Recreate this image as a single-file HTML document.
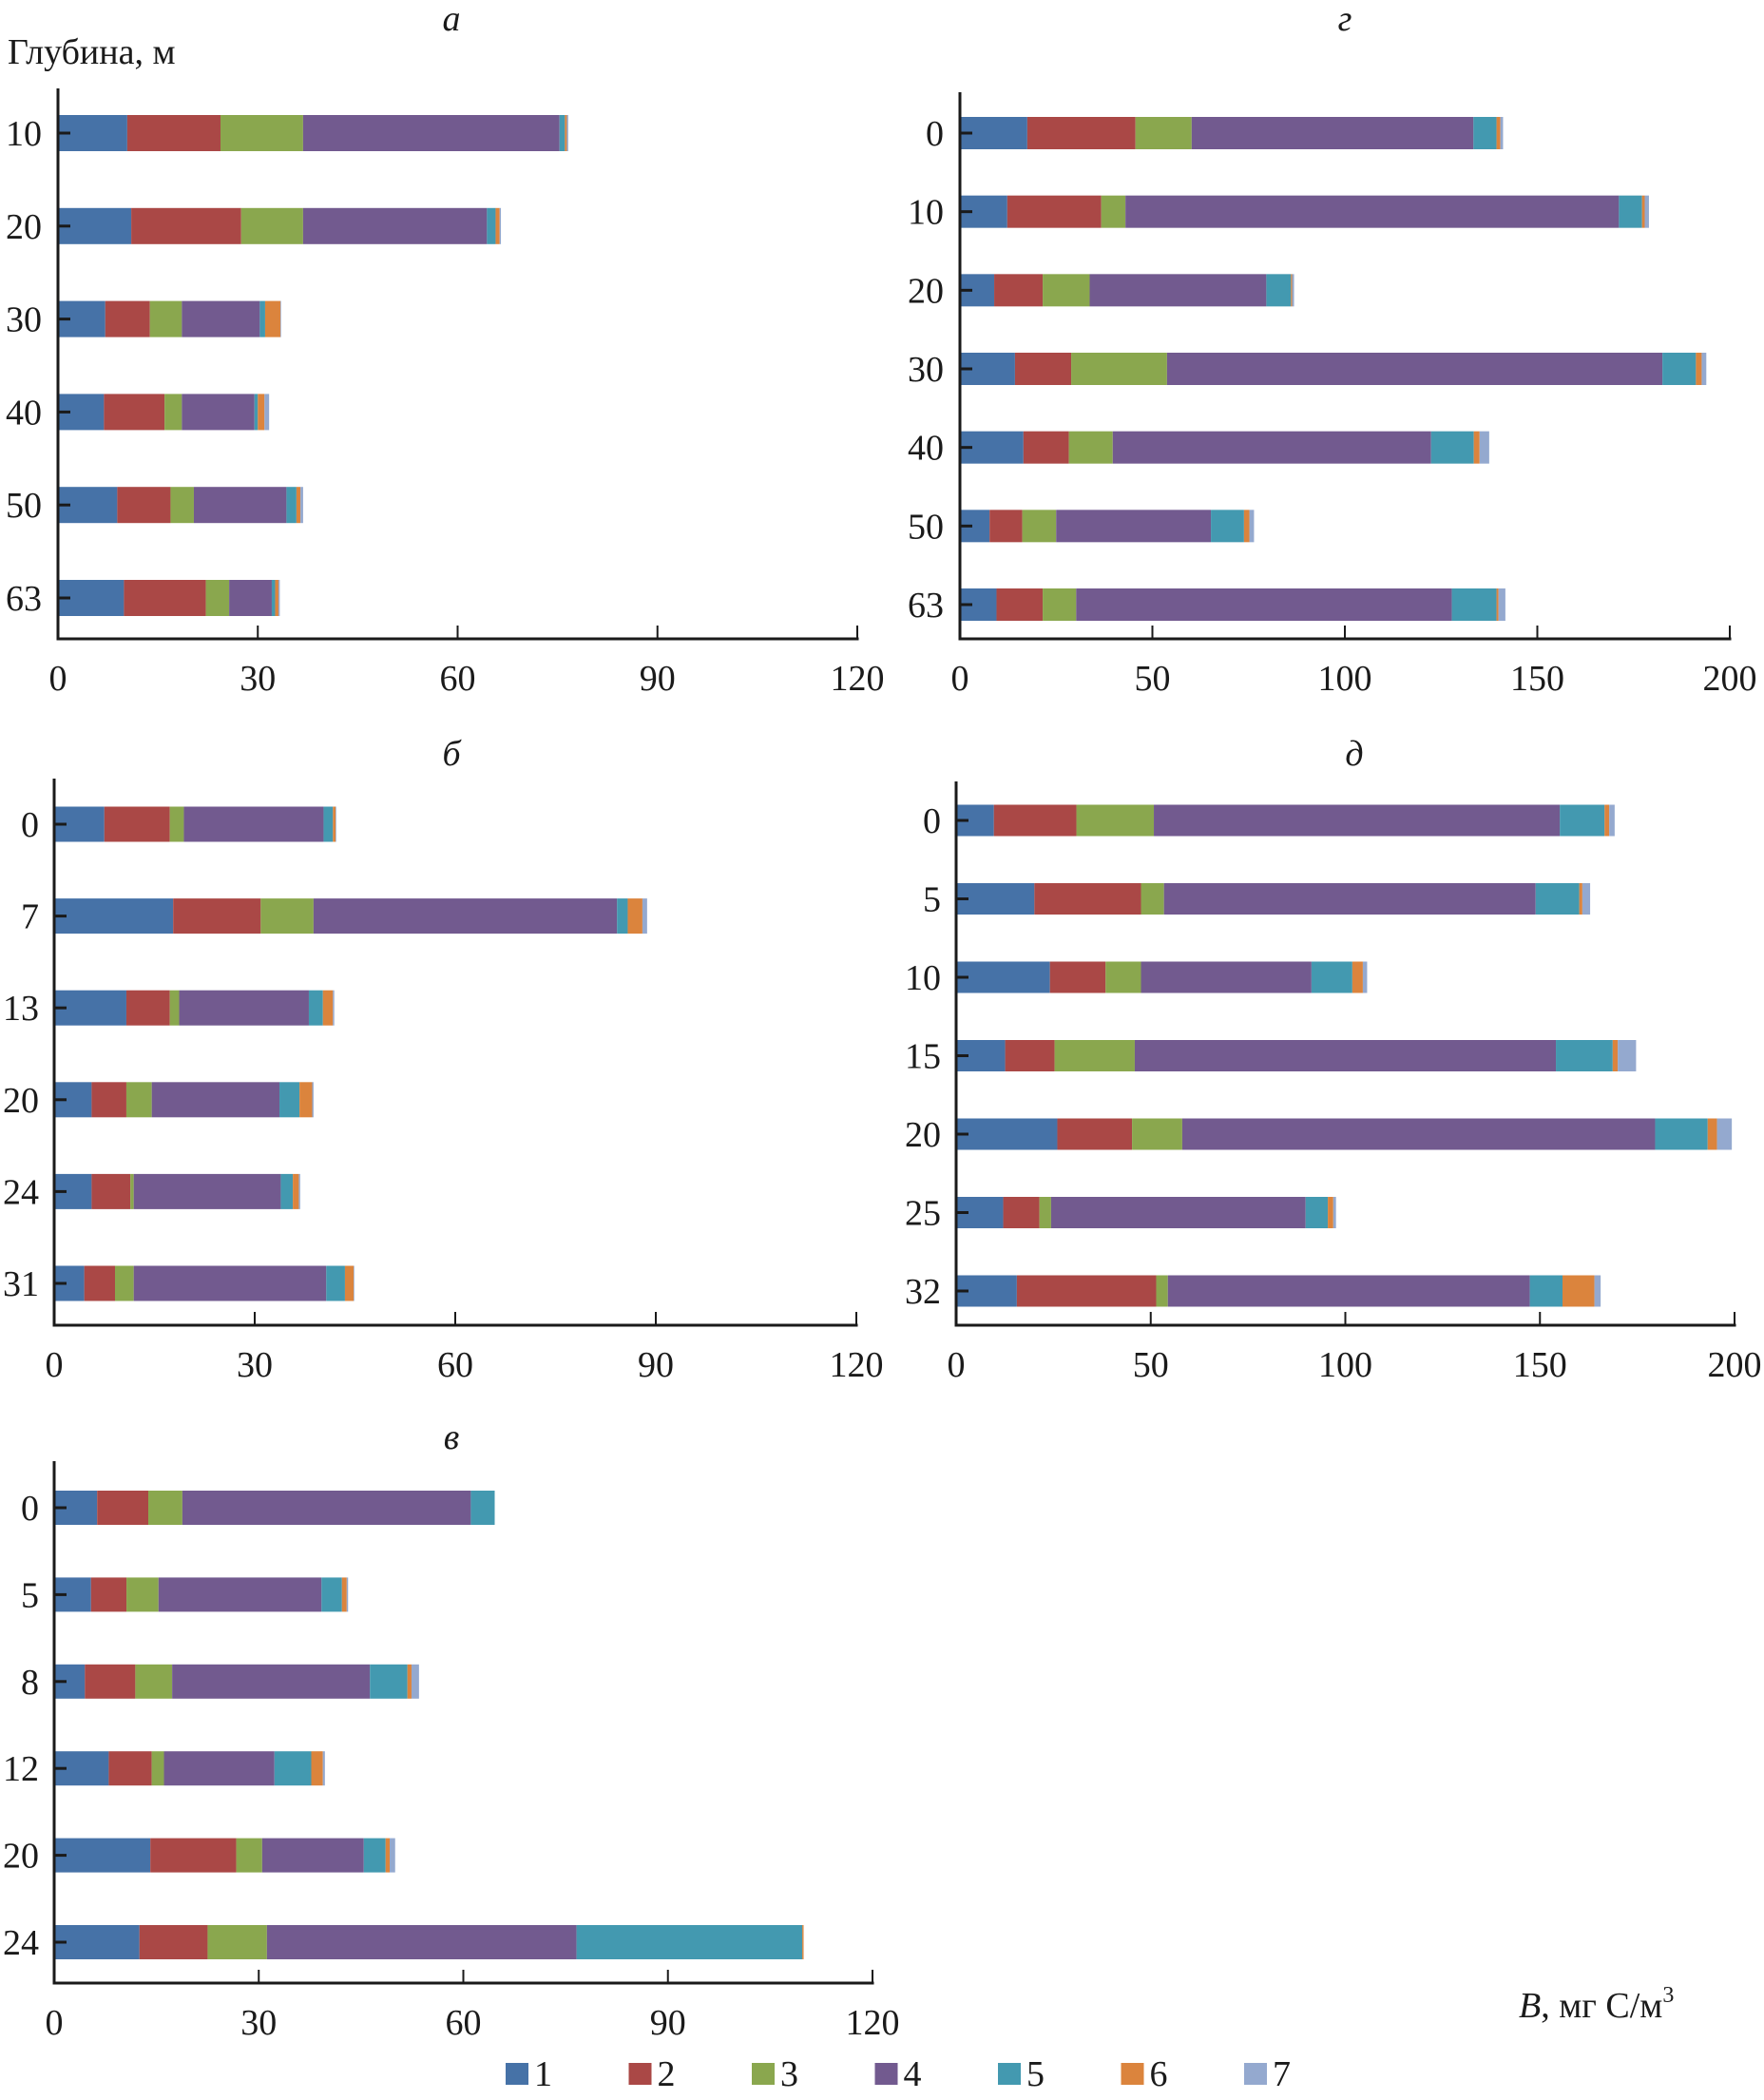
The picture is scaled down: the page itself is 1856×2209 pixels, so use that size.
<!DOCTYPE html>
<html><head><meta charset="utf-8"><style>
html,body{margin:0;padding:0;background:#fff}
svg{display:block}
text{font-family:"Liberation Serif","DejaVu Serif",serif;fill:#1a1a1a}
</style></head><body>
<svg id="chart" width="1856" height="2209" viewBox="0 0 1856 2209" xmlns="http://www.w3.org/2000/svg">
<text x="8" y="67" font-size="38">Глубина, м</text>
<text x="1598" y="2122" font-size="38"><tspan font-style="italic">B</tspan>, мг С/м<tspan font-size="24" dy="-16">3</tspan></text>
<g id="legend"></g>
</svg>
<script>
const colors = ["#4672a7","#aa4846","#8aa74e","#725a8f","#4399b0","#db843d","#94a9cf"];
const seriesNames = ["1","2","3","4","5","6","7"];

// Panel а
const catsA = ["10","20","30","40","50","63"];
const valsA = [
 [10.4,14.0,12.4,38.5,0.8,0.3,0.2],
 [11.0,16.5,9.3,27.6,1.3,0.6,0.2],
 [7.1,6.7,4.8,11.7,0.8,2.3,0.1],
 [6.9,9.1,2.6,10.9,0.5,1.0,0.7],
 [8.9,8.0,3.5,13.9,1.5,0.6,0.4],
 [9.9,12.3,3.5,6.4,0.5,0.5,0.2]];
const ticksA = [0,30,60,90,120];
// Panel г
const catsG = ["0","10","20","30","40","50","63"];
const valsG = [
 [17.5,28.1,14.6,73.2,6.0,1.0,0.7],
 [12.3,24.4,6.3,128.2,6.0,0.7,1.1],
 [8.9,12.6,12.2,45.9,6.4,0.3,0.5],
 [14.3,14.6,24.9,128.7,8.7,1.5,1.2],
 [16.5,11.8,11.4,82.7,11.1,1.5,2.5],
 [7.7,8.5,8.8,40.2,8.6,1.4,1.2],
 [9.5,12.0,8.7,97.6,11.6,0.5,1.8]];
const ticksG = [0,50,100,150,200];
// Panel б
const catsB = ["0","7","13","20","24","31"];
const valsB = [
 [7.5,9.8,2.1,20.9,1.4,0.4,0.1],
 [17.8,13.1,7.9,45.4,1.6,2.2,0.7],
 [10.8,6.5,1.4,19.4,2.1,1.5,0.2],
 [5.6,5.2,3.8,19.1,3.0,1.9,0.2],
 [5.6,5.8,0.5,22.0,1.8,0.9,0.2],
 [4.5,4.6,2.8,28.8,2.8,1.3,0.1]];
const ticksB = [0,30,60,90,120];
// Panel д
const catsD = ["0","5","10","15","20","25","32"];
const valsD = [
 [9.7,21.2,19.9,104.3,11.5,1.2,1.4],
 [20.1,27.4,5.9,95.5,11.2,0.8,2.0],
 [24.1,14.3,9.1,43.8,10.5,2.7,1.1],
 [12.6,12.7,20.6,108.2,14.6,1.3,4.7],
 [26.0,19.2,12.9,121.5,13.5,2.4,3.8],
 [12.1,9.3,3.0,65.4,5.7,1.4,0.7],
 [15.6,35.8,3.0,93.0,8.4,8.2,1.6]];
const ticksD = [0,50,100,150,200];
// Panel в
const catsV = ["0","5","8","12","20","24"];
const valsV = [
 [6.3,7.5,5.0,42.3,3.5,0,0],
 [5.4,5.2,4.7,23.9,3.0,0.7,0.2],
 [4.5,7.4,5.4,29.0,5.5,0.6,1.1],
 [8.0,6.3,1.8,16.2,5.4,1.7,0.3],
 [14.1,12.6,3.8,14.9,3.2,0.6,0.8],
 [12.5,10.0,8.7,45.4,33.1,0.2,0]];
const ticksV = [0,30,60,90,120];

const NS = "http://www.w3.org/2000/svg";
const svg = document.getElementById("chart");
function mk(tag, attrs, parent){
  const e = document.createElementNS(NS, tag);
  for (const k in attrs) e.setAttribute(k, attrs[k]);
  (parent||svg).appendChild(e);
  return e;
}

function panel(p, cats, vals, ticks){
  const g = mk("g", {});
  
  
  const max = ticks[ticks.length-1];
  const xs = v => p.x0 + (p.x1 - p.x0) * v / max;
  const n = cats.length;
  const ys = i => p.first + (p.last - p.first) * i / (n - 1);
  const t = mk("text", {x:p.tx, y:p.ty, "font-size":38, "font-style":"italic", "text-anchor":"middle"}, g);
  t.textContent = p.title;
  
  
  cats.forEach((c, i) => {
    let acc = 0;
    const cy = ys(i);
    vals[i].forEach((v, s) => {
      if (v <= 0) { return; }
      const r = mk("rect", {x:xs(acc), y:cy - p.bh/2, width:Math.max(0, xs(acc+v)-xs(acc)), height:p.bh, fill:colors[s]}, g);
      
      
      acc += v;
    });
    const tk = mk("line", {x1:p.x0, x2:p.x0+13, y1:cy, y2:cy, stroke:"#1a1a1a", "stroke-width":3}, g);
    
    
    const lb = mk("text", {x:p.lx, y:cy+13, "font-size":38, "text-anchor":"end"}, g);
    lb.textContent = c;
    
    
  });
  const ya = mk("line", {x1:p.x0, x2:p.x0, y1:p.top, y2:p.axisY+1.5, stroke:"#1a1a1a", "stroke-width":3}, g);
  
  
  const xa = mk("line", {x1:p.x0-1.5, x2:p.x1+1.5, y1:p.axisY, y2:p.axisY, stroke:"#1a1a1a", "stroke-width":3}, g);
  
  
  ticks.forEach(tv => {
    const x = xs(tv);
    const tl = mk("line", {x1:x, x2:x, y1:p.axisY, y2:p.axisY-14, stroke:"#1a1a1a", "stroke-width":2}, g);
    
    
    const tx = mk("text", {x:x, y:p.axisY+54, "font-size":38, "text-anchor":"middle"}, g);
    tx.textContent = tv;
    
    
  });
}

panel({id:"a", title:"а", tx:475, ty:32, x0:61, x1:902, axisY:672, top:93, first:140, last:629, bh:38, lx:44}, catsA, valsA, ticksA);
panel({id:"g", title:"г", tx:1415, ty:32, x0:1010, x1:1820, axisY:672, top:97, first:140, last:636, bh:34, lx:993}, catsG, valsG, ticksG);
panel({id:"b", title:"б", tx:475, ty:805, x0:57, x1:901, axisY:1394, top:819, first:867, last:1350, bh:37, lx:41}, catsB, valsB, ticksB);
panel({id:"d", title:"д", tx:1425, ty:805, x0:1006, x1:1825, axisY:1394, top:822, first:863, last:1358, bh:33, lx:990}, catsD, valsD, ticksD);
panel({id:"v", title:"в", tx:475, ty:1524, x0:57, x1:918, axisY:2086, top:1537, first:1586, last:2043, bh:36, lx:41}, catsV, valsV, ticksV);

const legend = document.getElementById("legend");
const legendX0 = 532, legendStep = 129.5;
seriesNames.forEach((nm, i) => {
  const x = legendX0 + legendStep * i;
  const r = mk("rect", {x:x, y:2170, width:24, height:23, fill:colors[i]}, legend);
  
  
  const t = mk("text", {x:x+30, y:2194, "font-size":38}, legend);
  t.textContent = nm;
  
  
});
</script>
</body></html>
